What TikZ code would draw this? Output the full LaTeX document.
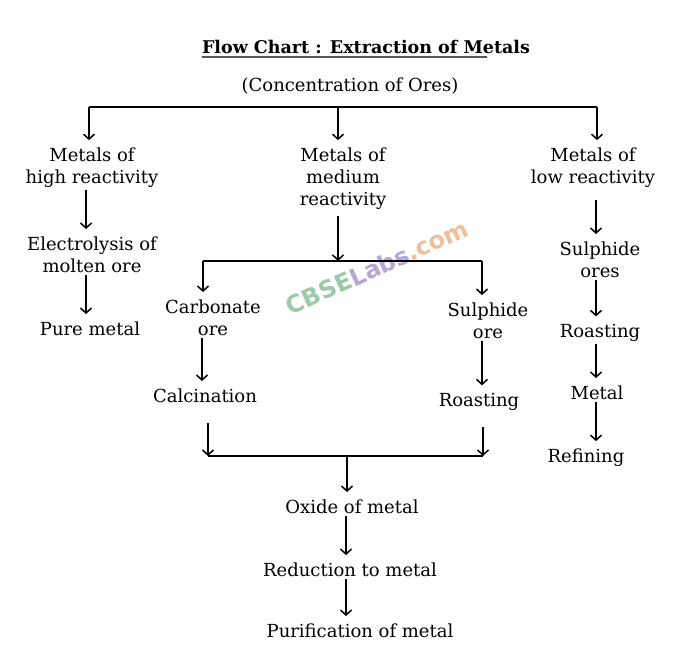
\documentclass[tikz,border=0pt]{standalone}
\usepackage{fontspec}
\setmainfont{DejaVu Serif}
\newfontfamily\wmfont{DejaVu Sans}
\usetikzlibrary{arrows.meta}
\definecolor{wmgreen}{HTML}{9CC9A8}
\definecolor{wmviolet}{HTML}{B7A6D8}
\definecolor{wmorange}{HTML}{F0BF9A}
\begin{document}
\begin{tikzpicture}[x=1pt,y=-1pt,
  lbl/.style={font=\fontsize{18}{22}\selectfont, align=center, inner sep=0pt, outer sep=0pt},
  ttl/.style={font=\bfseries\fontsize{17.5}{20}\selectfont, inner sep=0pt},
  lin/.style={line width=1.5pt},
  arr/.style={line width=1.5pt, -{Straight Barb[length=5pt,width=11pt,line width=1.5pt]}, shorten >=8pt, shorten <=2pt},
  arrb/.style={line width=1.5pt, -{Straight Barb[length=5pt,width=11pt,line width=1.5pt]}, shorten <=6pt},
]
\useasboundingbox (0,0) rectangle (679,671);
\fill[white] (0,0) rectangle (679,671);

% watermark
\node[rotate=24, font=\wmfont\bfseries\fontsize{24}{24}\selectfont, inner sep=0pt] (wm) at (377,267)
  {\textcolor{wmgreen}{CBSE}\textcolor{wmviolet}{Labs}\textcolor{wmorange}{.com}};

\node[ttl] (title) at (366,47) {Flow Chart : Extraction of Metals};
\draw[line width=1.1pt] (title.south west) ++(0,3) -- (487,57);
\node[lbl] (conc) at (350,86) {(Concentration of Ores)};

\node[lbl] (high) at (92,168) {Metals of\\high reactivity};
\node[lbl] (med) at (343,179) {Metals of\\medium\\reactivity};
\node[lbl] (low) at (593,168) {Metals of\\low reactivity};

\node[lbl] (elec) at (92,255) {Electrolysis of\\molten ore};
\node[lbl] (pure) at (90,329) {Pure metal};

\node[lbl] (carb) at (213,318) {Carbonate\\ore};
\node[lbl] (sulph) at (488,321) {Sulphide\\ore};
\node[lbl] (calc) at (205,396) {Calcination};
\node[lbl] (roast) at (479,402) {Roasting};

\node[lbl] (oxide) at (352,507) {Oxide of metal};
\node[lbl] (red) at (350,570) {Reduction to metal};
\node[lbl] (puri) at (360,631) {Purification of metal};

\node[lbl] (rs) at (600,260) {Sulphide\\ores};
\node[lbl] (rr) at (600,333) {Roasting};
\node[lbl] (metal) at (597,393) {Metal};
\node[lbl] (refine) at (586,458) {Refining};

% top bar
\coordinate (tl) at (89,107);
\coordinate (tm) at (338,107);
\coordinate (tr) at (597,107);
\draw[lin] (tl) -- (tr);
\draw[arr, shorten <=0pt] (tl) -- (tl |- high.north);
\draw[arr, shorten <=0pt] (tm) -- (tm |- med.north);
\draw[arr, shorten <=0pt] (tr) -- (tr |- low.north);

% left column
\coordinate (lc) at (86,0);
\draw[arr] (lc |- high.south) -- (lc |- elec.north);
\draw[arr] (lc |- elec.south) -- (lc |- pure.north);

% middle split
\coordinate (ml) at (203,261);
\coordinate (mm) at (338,261);
\coordinate (mr) at (482,261);
\draw[lin] (ml) -- (mr);
\draw[arrb] (mm |- med.south) -- (mm);
\draw[arr, shorten <=0pt] (ml) -- (ml |- carb.north);
\draw[arr, shorten <=0pt] (mr) -- (mr |- sulph.north);
\draw[arr] (202,0 |- carb.south) -- (202,0 |- calc.north);
\draw[arr] (mr |- sulph.south) -- (mr |- roast.north);

% bottom merge
\coordinate (bl) at (208,456);
\coordinate (bm) at (347,456);
\coordinate (br) at (483,456);
\draw[lin] (bl) -- (br);
\draw[line width=1.5pt, -{Straight Barb[length=5pt,width=11pt,line width=1.5pt]}, shorten <=20pt] (bl |- calc.south) -- (bl);
\draw[line width=1.5pt, -{Straight Barb[length=5pt,width=11pt,line width=1.5pt]}, shorten <=16pt] (br |- roast.south) -- (br);
\draw[arr, shorten <=0pt] (bm) -- (bm |- oxide.north);
\draw[arr] (346,0 |- oxide.south) -- (346,0 |- red.north);
\draw[arr] (346,0 |- red.south) -- (346,0 |- puri.north);

% right column
\coordinate (rc) at (596,0);
\draw[arr, shorten <=12pt] (rc |- low.south) -- (rc |- rs.north);
\draw[arr] (rc |- rs.south) -- (rc |- rr.north);
\draw[arr] (rc |- rr.south) -- (rc |- metal.north);
\draw[arr] (rc |- metal.south) -- (rc |- refine.north);
\end{tikzpicture}
\end{document}
